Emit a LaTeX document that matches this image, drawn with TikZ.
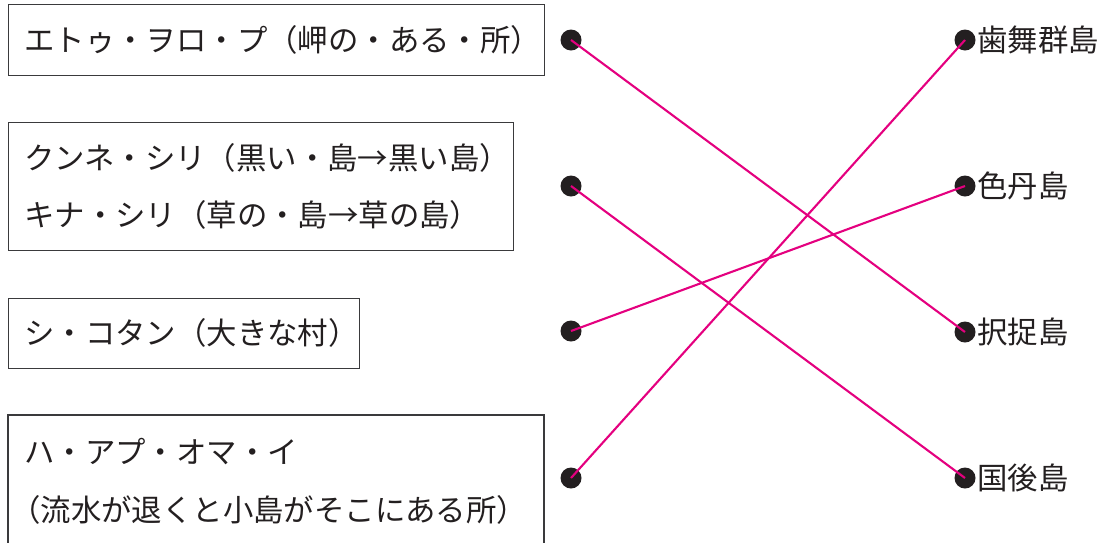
\documentclass[tikz,border=0pt]{standalone}
\usepackage{fontspec}
\newfontfamily\jp{Noto Sans CJK JP}
\definecolor{ink}{HTML}{231F20}
\definecolor{boxline}{HTML}{3A3A3C}
\definecolor{mag}{HTML}{E4007F}
\begin{document}
\begin{tikzpicture}[x=1pt,y=-1pt,
  txt/.style={anchor=base west,inner sep=0pt,font=\jp\fontsize{30.4}{32}\selectfont,text=ink},
  frame/.style={draw=boxline,line width=1.4pt,anchor=north west,inner sep=0pt},
  dot/.style={circle,fill=ink,inner sep=0pt,minimum size=21pt},
  link/.style={draw=mag,line width=2.1pt}]
\useasboundingbox (0,0) rectangle (1107,542);
% boxes
\node[frame,minimum width=536pt,minimum height=71pt] (b1) at (8,4) {};
\node[frame,minimum width=505pt,minimum height=128pt] (b2) at (8,122) {};
\node[frame,minimum width=351pt,minimum height=70pt] (b3) at (8,298) {};
\coordinate (b4bl) at (8,545);
\coordinate (b4br) at (544,545);
\draw[draw=boxline,line width=1.4pt] (b4bl) -- (8,415) -- (544,415) -- (b4br);
% texts
\node[txt] (t1) at (24,51) {エトゥ・ヲロ・プ（岬の・ある・所）};
\node[txt] (t2a) at (24,169) {クンネ・シリ（黒い・島→黒い島）};
\node[txt] (t2b) at (24,226) {キナ・シリ（草の・島→草の島）};
\node[txt] (t3) at (24,344) {シ・コタン（大きな村）};
\node[txt] (t4a) at (24,463) {ハ・アプ・オマ・イ};
\node[txt] (t4b) at (10,521) {（流水が退くと小島がそこにある所）};
% dots
\node[dot] (l1) at (571,40) {};
\node[dot] (l2) at (571,186) {};
\node[dot] (l3) at (571,331) {};
\node[dot] (l4) at (571,478) {};
\node[dot] (r1) at (965,40) {};
\node[dot] (r2) at (965,186) {};
\node[dot] (r3) at (965,332) {};
\node[dot] (r4) at (965,478) {};
\node[txt] (n1) at (977,51) {歯舞群島};
\node[txt] (n2) at (977,197) {色丹島};
\node[txt] (n3) at (977,343) {択捉島};
\node[txt] (n4) at (977,489) {国後島};
% links
\draw[link] (l1.center) -- (r3.center);
\draw[link] (l2.center) -- (r4.center);
\draw[link] (l3.center) -- (r2.center);
\draw[link] (l4.center) -- (r1.center);
\end{tikzpicture}
\end{document}
